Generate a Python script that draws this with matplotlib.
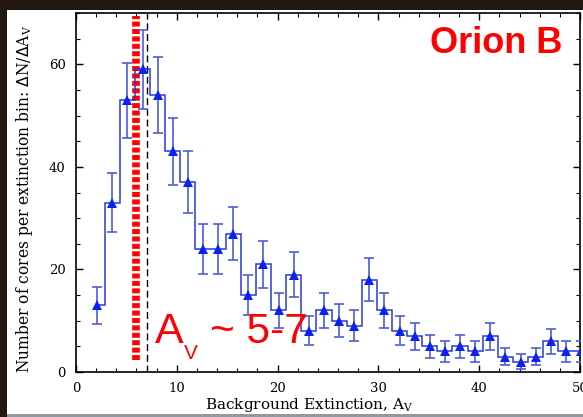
import numpy as np
import matplotlib
matplotlib.use("Agg")
import matplotlib.pyplot as plt
from matplotlib.patches import Rectangle

# ---- data ----
bin_centers = [2.1 + 1.5 * i for i in range(33)]
counts = [13, 33, 53, 59, 54, 43, 37, 24, 24, 27, 15, 21, 12, 19, 8, 12, 10, 9,
          18, 12, 8, 7, 5, 4, 5, 4, 7, 3, 2, 3, 6, 4, 4]
threshold_red = 6.0
threshold_black = 7.0
x_ticks = [0, 10, 20, 30, 40, 50]
y_ticks = [0, 20, 40, 60]

W, H = 583, 417
fig = plt.figure(figsize=(W / 100, H / 100), dpi=100)
fig.patch.set_facecolor('#22180f')
# white slide panel
fig.add_artist(Rectangle((7 / W, 1 - 414 / H), 1, (414 - 10) / H,
                         transform=fig.transFigure, facecolor='white',
                         edgecolor='none', zorder=0))
fig.add_artist(Rectangle((7 / W, 0), 1, 1 - 414 / H - 0.001,
                         transform=fig.transFigure, facecolor='#8d9aa3',
                         edgecolor='none', zorder=0))

ax = fig.add_axes([76 / W, 1 - 372 / H, (580 - 76) / W, (372 - 13) / H])
ax.set_facecolor('white')

x = np.array(bin_centers)
y = np.array(counts, dtype=float)
err = np.sqrt(y)

edges = np.concatenate([[x[0] - 0.2], (x[1:] + x[:-1]) / 2, [x[-1] + 0.75]])
ax.stairs(y, edges, baseline=None, color='#2a3ad2', lw=1.1, zorder=3)
ax.errorbar(x, y, yerr=err, fmt='none', ecolor='#4d5ed8', elinewidth=1.2,
            capsize=3.5, capthick=1.2, zorder=3)
ax.plot(x, y, linestyle='none', marker='^', markersize=7, color='#0b22f0',
        markeredgewidth=0, zorder=4)

ax.axvline(threshold_red, ymin=2.4 / 70, ymax=69.5 / 70, color='#ff0000',
           lw=5.5, linestyle=(0, (0.65, 0.32)), dash_capstyle='butt', zorder=2)
ax.axvline(threshold_black, color='black', lw=1.0,
           linestyle=(0, (5, 2.7)), zorder=2)

ax.set_xlim(0, 50)
ax.set_ylim(0, 70)
ax.set_xticks(x_ticks)
ax.set_yticks(y_ticks)
ax.set_xticks(np.arange(0, 51, 2), minor=True)
ax.set_yticks(np.arange(0, 71, 5), minor=True)
ax.tick_params(which='both', direction='in', top=True, right=True)
ax.tick_params(which='major', length=5, width=1.0, pad=7.5, labelsize=9.5)
ax.tick_params(which='minor', length=3, width=0.8)
for lab in ax.get_xticklabels() + ax.get_yticklabels():
    lab.set_family('DejaVu Serif')
for s in ax.spines.values():
    s.set_linewidth(1.2)

fig.text(25 / W, 1 - 199 / H,
         r'Number of cores per extinction bin: $\Delta$N/$\Delta$A$_{\mathregular{V}}$',
         rotation=90, ha='center', va='center', family='DejaVu Serif',
         fontsize=11.2)
fig.text(309 / W, 1 - 408.5 / H, r'Background Extinction, A$_{\mathregular{V}}$',
         ha='center', va='baseline', family='DejaVu Serif', fontsize=11)

ax.text(0.965, 0.915, 'Orion B', transform=ax.transAxes, ha='right',
        va='center', color='#ff0000', fontsize=26, fontweight='bold',
        family='Liberation Sans')

red_kw = dict(color='#ff0000', family='Liberation Sans', zorder=5)
ax.text(7.85, 5.6, 'A', fontsize=31, ha='left', va='baseline', **red_kw)
ax.text(10.75, 2.5, 'V', fontsize=15, ha='left', va='baseline', **red_kw)
ax.text(13.3, 5.6, '~ 5-7', fontsize=30.5, ha='left', va='baseline', **red_kw)

fig.savefig('out.png', dpi=100, facecolor=fig.get_facecolor())
